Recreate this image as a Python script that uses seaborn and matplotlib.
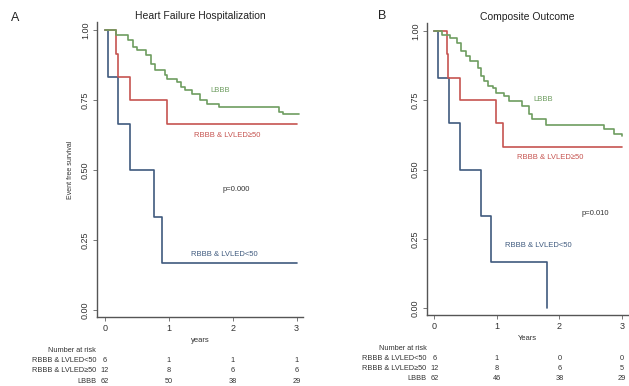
import matplotlib
matplotlib.use("Agg")
import matplotlib.pyplot as plt
import numpy as np
import pandas as pd
import seaborn as sns

# ---------------- data ----------------
groups = ["RBBB & LVLED<50", "RBBB & LVLED≥50", "LBBB"]
colors = {"RBBB & LVLED<50": "#3f5a7e", "RBBB & LVLED≥50": "#c65450", "LBBB": "#6e9d60"}

# Panel A: Heart Failure Hospitalization
a_blue_t = [0, 0.05, 0.21, 0.39, 0.77, 0.90, 3.0]
a_blue_s = [1.0, 0.833, 0.667, 0.5, 0.333, 0.167, 0.167]
a_red_t = [0, 0.18, 0.21, 0.39, 0.97, 3.0]
a_red_s = [1.0, 0.917, 0.833, 0.75, 0.667, 0.667]
a_green_t = [0, 0.18, 0.37, 0.44, 0.50, 0.65, 0.73, 0.78, 0.94, 0.97, 1.13, 1.20,
             1.26, 1.36, 1.49, 1.60, 1.78, 2.72, 2.78, 3.03]
a_green_s = [1.0, 0.982, 0.964, 0.94, 0.929, 0.911, 0.881, 0.857, 0.839, 0.827, 0.815,
             0.798, 0.786, 0.774, 0.75, 0.738, 0.726, 0.708, 0.702, 0.702]

# Panel B: Composite Outcome
b_blue_t = [0, 0.06, 0.225, 0.41, 0.75, 0.91, 1.8]
b_blue_s = [1.0, 0.833, 0.667, 0.5, 0.333, 0.167, 0.0]
b_red_t = [0, 0.2, 0.22, 0.41, 0.98, 1.09, 3.0]
b_red_s = [1.0, 0.917, 0.833, 0.75, 0.667, 0.583, 0.583]
b_green_t = [0, 0.12, 0.25, 0.36, 0.43, 0.51, 0.57, 0.70, 0.75, 0.80, 0.85, 0.93, 0.98,
             1.11, 1.19, 1.40, 1.51, 1.56, 1.79, 2.71, 2.87, 3.0]
b_green_s = [1.0, 0.988, 0.976, 0.958, 0.928, 0.91, 0.892, 0.868, 0.838, 0.82, 0.802,
             0.794, 0.778, 0.766, 0.748, 0.73, 0.70, 0.682, 0.66, 0.646, 0.628, 0.622]

# Number at risk (times 0,1,2,3)
risk_times = [0, 1, 2, 3]
a_risk = {"RBBB & LVLED<50": [6, 1, 1, 1], "RBBB & LVLED≥50": [12, 8, 6, 6], "LBBB": [62, 50, 38, 29]}
b_risk = {"RBBB & LVLED<50": [6, 1, 0, 0], "RBBB & LVLED≥50": [12, 8, 6, 5], "LBBB": [62, 46, 38, 29]}

yticks = [0.0, 0.25, 0.5, 0.75, 1.0]
ytick_labels = ["0.00", "0.25", "0.50", "0.75", "1.00"]
xticks = [0, 1, 2, 3]

# ---------------- style ----------------
sns.set_style("ticks")
plt.rcParams["font.family"] = ["Liberation Sans", "DejaVu Sans"]

fig = plt.figure(figsize=(6.29, 3.86), dpi=100)
W, H = 629, 386


def make_df(tb, sb, tr, sr, tg, sg):
    rows = []
    for g, tt, ss in zip(groups, [tb, tr, tg], [sb, sr, sg]):
        for t, s in zip(tt, ss):
            rows.append((g, t, s))
    return pd.DataFrame(rows, columns=["group", "t", "s"])


def panel(rect, df, title, xlabel, risk, letter, letter_xy, labels, ylabel=None):
    ax = fig.add_axes(rect)
    sns.lineplot(data=df, x="t", y="s", hue="group", hue_order=groups, palette=colors,
                 drawstyle="steps-post", estimator=None, sort=False, legend=False,
                 linewidth=1.2, ax=ax)
    ax.set_xlim(-0.12, 3.1)
    ax.set_ylim(-0.025, 1.03)
    for sp in ["top", "right"]:
        ax.spines[sp].set_visible(False)
    for sp in ["left", "bottom"]:
        ax.spines[sp].set_color("#555555")
        ax.spines[sp].set_linewidth(1.0)
    ax.set_yticks(yticks)
    ax.set_yticklabels(ytick_labels)
    ax.set_xticks(xticks)
    ax.tick_params(axis="both", length=3, width=0.7, color="#777777", labelsize=6.5,
                   labelcolor="#333333", pad=2)
    plt.setp(ax.get_yticklabels(), rotation=90, va="center")
    ax.set_xlabel(xlabel, fontsize=5.5, color="#333333", labelpad=3)
    if ylabel:
        ax.set_ylabel(ylabel, fontsize=5, color="#333333", labelpad=5)
    else:
        ax.set_ylabel("")
    ax.set_title(title, fontsize=7.5, color="#222222", pad=2)
    fig.text(letter_xy[0] / W, 1 - letter_xy[1] / H, letter, fontsize=9,
             color="#222222", ha="center", va="center")
    for txt, x, y, c in labels:
        ax.text(x, y, txt, fontsize=5.5, color=c, ha="center", va="center")
    # number at risk table
    tr = ax.get_xaxis_transform()
    ax.text(-0.13, -0.115, "Number at risk", transform=tr, fontsize=5.3, ha="right",
            va="center", color="#333333")
    for i, g in enumerate(groups):
        yy = -0.149 - 0.034 * i
        ax.text(-0.13, yy, g, transform=tr, fontsize=5.3, ha="right", va="center",
                color="#333333")
        for t, n in zip(risk_times, risk[g]):
            ax.text(t, yy, str(n), transform=tr, fontsize=5.3, ha="center", va="center",
                    color="#333333")
    return ax


dfa = make_df(a_blue_t, a_blue_s, a_red_t, a_red_s, a_green_t, a_green_s)
dfb = make_df(b_blue_t, b_blue_s, b_red_t, b_red_s, b_green_t, b_green_s)

labels_a = [("LBBB", 1.8, 0.786, colors["LBBB"]),
            ("RBBB & LVLED≥50", 1.92, 0.625, colors["RBBB & LVLED≥50"]),
            ("p=0.000", 2.05, 0.43, "#333333"),
            ("RBBB & LVLED<50", 1.87, 0.20, colors["RBBB & LVLED<50"])]
labels_b = [("LBBB", 1.74, 0.755, colors["LBBB"]),
            ("RBBB & LVLED≥50", 1.85, 0.543, colors["RBBB & LVLED≥50"]),
            ("p=0.010", 2.57, 0.342, "#333333"),
            ("RBBB & LVLED<50", 1.66, 0.227, colors["RBBB & LVLED<50"])]

panel([97 / W, 1 - 317 / H, (303 - 97) / W, (317 - 22) / H], dfa,
      "Heart Failure Hospitalization", "years", a_risk, "A", (15, 18), labels_a,
      ylabel="Event free survival")
panel([427 / W, 1 - 315 / H, (628 - 427) / W, (315 - 23) / H], dfb,
      "Composite Outcome", "Years", b_risk, "B", (382, 16), labels_b)

fig.savefig("out.png", dpi=100)
